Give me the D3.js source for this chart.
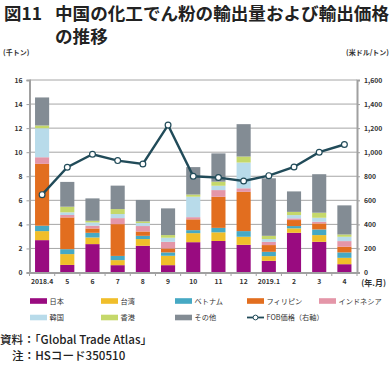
<!DOCTYPE html>
<html><head><meta charset="utf-8">
<script src="https://cdn.jsdelivr.net/npm/d3@7"></script>
<style>
body{margin:0;background:#fff;}
svg{display:block;}
text{font-family:"Noto Sans CJK JP","Noto Sans",sans-serif;}
</style></head>
<body>
<svg id="c" width="391" height="366"></svg>
<script>
const categories = ["2018.4","5","6","7","8","9","10","11","12","2019.1","2","3","4"];
const japan      = [2.69,0.63,2.36,0.61,2.22,0.61,2.52,2.62,2.30,0.97,3.30,2.55,0.69];
const taiwan     = [0.75,0.90,0.55,0.42,0.56,0.78,0.75,0.72,0.67,0.39,0.37,0.56,0.53];
const vietnam    = [0.45,0.41,0.39,0.35,0.27,0.28,0.25,0.37,0.47,0.36,0.19,0.47,0.45];
const philippines= [5.14,2.64,0.36,2.64,0.36,0.33,0.90,2.58,3.26,0.56,0.50,0.50,0.47];
const indonesia  = [0.55,0.20,0.23,0.50,0.45,0.55,0.18,0.56,0.30,0.27,0.14,0.14,0.47];
const korea      = [2.41,0.22,0.27,0.34,0.25,0.34,1.70,0.36,2.14,0.23,0.27,0.33,0.36];
const hongkong   = [0.23,0.47,0.14,0.41,0.14,0.22,0.18,0.34,0.50,0.27,0.27,0.42,0.19];
const others     = [2.33,2.06,1.86,1.95,1.78,2.22,2.28,2.35,2.69,4.78,1.70,3.20,2.42];
const fob        = [647,875,983,930,902,1225,800,789,761,805,877,1000,1064];
const leftTicks  = [0,2,4,6,8,10,12,14,16];
const rightTicks = [0,200,400,600,800,1000,1200,1400,1600];
const seriesNames = ["日本","台湾","ベトナム","フィリピン","インドネシア","韓国","香港","その他"];
const seriesColors = ["#990b80","#f0be2a","#46a9c4","#e26e1f","#e496a8","#b8dbea","#c5d86a","#838c94"];
const seriesData = [japan,taiwan,vietnam,philippines,indonesia,korea,hongkong,others];

const svg = d3.select("#c");
const L = 29.5, R = 357, T = 80, B = 272.5;

const x = d3.scaleBand().domain(categories).range([L,R]).paddingInner(0.44).paddingOuter(0.22);
const y = d3.scaleLinear().domain([0,16]).range([B,T]);
const y2 = d3.scaleLinear().domain([0,1600]).range([B,T]);

// title
svg.append("text").attr("x",4).attr("y",20).attr("font-size",17.4).attr("font-weight",700).attr("fill","#222").text("図11");
svg.append("text").attr("x",55).attr("y",20).attr("font-size",17.6).attr("font-weight",700).attr("fill","#222")
  .attr("textLength",334).attr("lengthAdjust","spacing").text("中国の化工でん粉の輸出量および輸出価格");
svg.append("text").attr("x",55).attr("y",43).attr("font-size",17.6).attr("font-weight",700).attr("fill","#222").text("の推移");

// unit labels
svg.append("text").attr("x",3).attr("y",55).attr("font-size",7).attr("font-weight",700).attr("fill","#333").text("(千トン)");
svg.append("text").attr("x",389).attr("y",55).attr("text-anchor","end").attr("font-size",7).attr("font-weight",700).attr("fill","#333").text("(米ドル/トン)");

// gridlines
svg.append("g").selectAll("line").data(leftTicks.filter(d=>d>0)).join("line")
  .attr("x1",L).attr("x2",R).attr("y1",d=>y(d)).attr("y2",d=>y(d))
  .attr("stroke","#a6a6a6").attr("stroke-width",1);

// stacked bars
const table = categories.map((c,i)=>{const o={cat:c}; seriesNames.forEach((n,k)=>o[n]=seriesData[k][i]); return o;});
const stack = d3.stack().keys(seriesNames)(table);
svg.append("g").selectAll("g").data(stack).join("g").attr("fill",(d,i)=>seriesColors[i])
  .selectAll("rect").data(d=>d).join("rect")
  .attr("x",d=>x(d.data.cat)).attr("width",x.bandwidth())
  .attr("y",d=>y(d[1])).attr("height",d=>y(d[0])-y(d[1]));

// axes
const axL = svg.append("g").attr("transform",`translate(${L},0)`)
  .call(d3.axisLeft(y).tickValues(leftTicks).tickSize(3).tickPadding(4));
const axR = svg.append("g").attr("transform",`translate(${R},0)`)
  .call(d3.axisRight(y2).tickValues(rightTicks).tickSize(3).tickPadding(4).tickFormat(d3.format(",")));
const axB = svg.append("g").attr("transform",`translate(0,${B})`)
  .call(d3.axisBottom(x).tickSize(0).tickPadding(7));
[axL,axR,axB].forEach(a=>{
  a.select(".domain").attr("stroke","#a0a0a0").attr("stroke-width",2);
  a.selectAll(".tick line").attr("stroke","#a0a0a0");
  a.selectAll("text").attr("font-family","DejaVu Sans, sans-serif").attr("font-size",6.8).attr("font-weight",700).attr("fill","#333");
});
// category boundary ticks on x axis
const bounds = categories.slice(1).map(c=>x(c)-x.step()*x.paddingInner()/2).concat([L,R]);
svg.append("g").selectAll("line").data(bounds).join("line")
  .attr("x1",d=>d).attr("x2",d=>d).attr("y1",B).attr("y2",B+3.5)
  .attr("stroke","#a0a0a0").attr("stroke-width",1);
svg.append("text").attr("x",386).attr("y",286).attr("text-anchor","end").attr("font-size",8).attr("font-weight",700).attr("fill","#333").text("(年.月)");

// FOB line
const cx = d=>x(d)+x.bandwidth()/2;
const line = d3.line().x((d,i)=>cx(categories[i])).y(d=>y2(d));
svg.append("path").datum(fob).attr("d",line).attr("fill","none").attr("stroke","#214b59").attr("stroke-width",2.4);
svg.append("g").selectAll("circle").data(fob).join("circle")
  .attr("cx",(d,i)=>cx(categories[i])).attr("cy",d=>y2(d)).attr("r",2.9)
  .attr("fill","#fff").attr("stroke","#214b59").attr("stroke-width",1.2);

// legend
const legX = [30,101,175,247,319];
const legItems = seriesNames.map((n,i)=>({name:n,color:seriesColors[i],type:"rect"}));
legItems.push({name:"FOB価格（右軸）",color:"#214b59",type:"line"});
const lg = svg.append("g");
legItems.forEach((d,i)=>{
  const col = i%5, row = Math.floor(i/5);
  const lx = legX[col], ly = 301 + row*16.5;
  if(d.type==="rect"){
    lg.append("rect").attr("x",lx).attr("y",ly-2.8).attr("width",17).attr("height",5.6).attr("fill",d.color);
  } else {
    lg.append("line").attr("x1",lx).attr("x2",lx+17).attr("y1",ly).attr("y2",ly).attr("stroke",d.color).attr("stroke-width",1.8);
    lg.append("circle").attr("cx",lx+8.5).attr("cy",ly).attr("r",2.4).attr("fill","#fff").attr("stroke",d.color).attr("stroke-width",1);
  }
  lg.append("text").attr("x",lx+19.5).attr("y",ly+2.6).attr("font-size",7.2).attr("fill","#333").text(d.name);
});

// footer
svg.append("text").attr("x",0).attr("y",344).attr("font-size",11.6).attr("font-weight",500).attr("fill","#222").text("資料：「Global Trade Atlas」");
svg.append("text").attr("x",12).attr("y",360).attr("font-size",11.6).attr("font-weight",500).attr("fill","#222").text("注：HSコード350510");
</script>
</body></html>
